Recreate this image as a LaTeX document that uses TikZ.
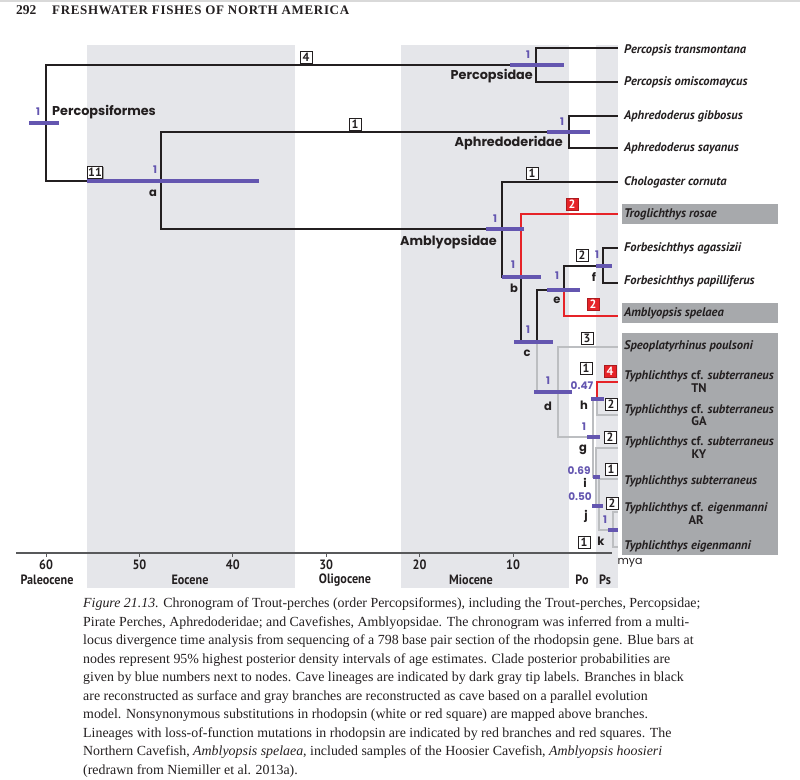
\documentclass[tikz,border=0pt]{standalone}
\usepackage{fontspec}
\setmainfont{Liberation Serif}
\newfontfamily\tipfont{PT Sans}
\newfontfamily\grpfont{Poppins}
\newfontfamily\axfont{PT Sans}[FakeStretch=0.9]
\newfontfamily\hdfont{Liberation Serif}[LetterSpace=5]
\usetikzlibrary{shadows}
\definecolor{hpd}{RGB}{100,86,176}
\definecolor{lof}{RGB}{230,35,40}
\definecolor{cave}{RGB}{188,190,193}
\definecolor{tipbox}{RGB}{167,169,172}
\definecolor{epoch}{RGB}{229,230,234}
\definecolor{ink}{RGB}{35,31,32}
\definecolor{axc}{RGB}{88,89,91}
\begin{document}
\begin{tikzpicture}[x=1pt,y=-1pt,
  br/.style={line width=2.8pt, draw=ink, line join=miter},
  cbr/.style={br, draw=cave},
  rbr/.style={br, draw=lof},
  hpdbar/.style={line width=4pt, draw=hpd},
  pplab/.style={text=hpd, font=\grpfont\bfseries\fontsize{10.5}{10.5}\selectfont, inner sep=0pt},
  nodelab/.style={text=ink, font=\grpfont\bfseries\fontsize{11.5}{11.5}\selectfont, inner sep=0pt},
  grplab/.style={text=ink, font=\grpfont\bfseries\fontsize{12.8}{12.8}\selectfont, inner sep=0pt},
  mutbox/.style={draw=ink, fill=white, line width=0.6pt, inner sep=0pt, minimum width=12pt, minimum height=12pt, text=ink, font=\tipfont\bfseries\fontsize{12}{12}\selectfont, drop shadow={shadow xshift=1.3pt, shadow yshift=-1.3pt, fill=gray!80, opacity=1}},
  rmutbox/.style={mutbox, fill=lof, text=white, draw=lof!75!black},
  tiplab/.style={anchor=west, inner sep=0pt, text=ink, font=\tipfont\bfseries\fontsize{12.5}{12.5}\selectfont, align=center},
  axnum/.style={inner sep=0pt, text=ink, font=\axfont\bfseries\fontsize{13.5}{13.5}\selectfont},
]
\useasboundingbox (0,0) rectangle (800,779);
% page rule and header
\draw[gray!30, line width=1.5pt] (0,1) -- (800,1);
\node[anchor=west, inner sep=0pt, text=ink, font=\bfseries\fontsize{13.5}{13.5}\selectfont] (pg) at (16,10) {292};
\node[anchor=west, inner sep=0pt, text=ink, font=\hdfont\bfseries\fontsize{13}{13}\selectfont] (hd) at (52,10) {FRESHWATER FISHES OF NORTH AMERICA};
% epoch shading
\fill[epoch] (87,45) rectangle (295,588);
\fill[epoch] (401,45) rectangle (569,588);
\fill[epoch] (596,45) rectangle (618,588);
% cave tip boxes
\fill[tipbox] (622,204) rectangle (778,224);
\fill[tipbox] (622,303) rectangle (778,323);
\fill[tipbox] (622,333) rectangle (778,555);
% axis
\draw[axc, line width=2pt] (16,553) -- (612,553);
\foreach \xx in {46,139.4,232.8,326.2,419.6,513} \draw[axc, line width=1pt] (\xx,553) -- (\xx,557);
\node[axnum] (n60) at (46,565) {60};
\node[axnum] (n50) at (139.4,565) {50};
\node[axnum] (n40) at (232.8,565) {40};
\node[axnum] (n30) at (326.2,565) {30};
\node[axnum] (n20) at (419.6,565) {20};
\node[axnum] (n10) at (513,565) {10};
\node[inner sep=0pt, text=ink, font=\grpfont\fontsize{11}{11}\selectfont] (mya) at (630,563) {mya};
\node[axnum] (ep1) at (47,580) {Paleocene};
\node[axnum] (ep2) at (190,580) {Eocene};
\node[axnum] (ep3) at (345,580) {Oligocene};
\node[axnum] (ep4) at (471,580) {Miocene};
\node[axnum] (ep5) at (582,580) {Po};
\node[axnum] (ep6) at (605,580) {Ps};
% tree nodes
\coordinate (root) at (46,123);
\coordinate (perc) at (536,65);
\coordinate (a) at (161,181);
\coordinate (aph) at (569,132);
\coordinate (amb) at (502,229);
\coordinate (b) at (521,277);
\coordinate (c) at (537,342);
\coordinate (e) at (564,290);
\coordinate (f) at (603,266);
\coordinate (d) at (558,392);
\coordinate (g) at (593,437);
\coordinate (h) at (597,399);
\coordinate (i) at (596,477);
\coordinate (j) at (599,506);
\coordinate (k) at (613,530);
% tips
\coordinate (tP1) at (618,48);
\coordinate (tP2) at (618,82);
\coordinate (tA1) at (618,116);
\coordinate (tA2) at (618,148);
\coordinate (tChol) at (618,182);
\coordinate (tTrog) at (618,214);
\coordinate (tF1) at (618,248);
\coordinate (tF2) at (618,283);
\coordinate (tAmb) at (618,316);
\coordinate (tSpeo) at (618,347);
\coordinate (tTN) at (618,382);
\coordinate (tGA) at (618,415);
\coordinate (tKY) at (618,448);
\coordinate (tSub) at (618,479);
\coordinate (tAR) at (618,512);
\coordinate (tEig) at (618,547);
% branches
\draw[br] (root) |- (perc);
\draw[br] (root) |- (a);
\draw[br] (perc) |- (tP1);
\draw[br] (perc) |- (tP2);
\draw[br] (a) |- (aph);
\draw[br] (a) |- (amb);
\draw[br] (aph) |- (tA1);
\draw[br] (aph) |- (tA2);
\draw[br] (amb) |- (tChol);
\draw[br] (amb) |- (b);
\draw[rbr] (b) |- (tTrog);
\draw[br] (b) |- (c);
\draw[br] (c) |- (e);
\draw[cbr] (c) |- (d);
\draw[br] (e) |- (f);
\draw[rbr] (e) |- (tAmb);
\draw[br] (f) |- (tF1);
\draw[br] (f) |- (tF2);
\draw[cbr] (d) |- (tSpeo);
\draw[cbr] (d) |- (g);
\draw[cbr] (g) |- (h);
\draw[cbr] (g) |- (i);
\draw[rbr] (h) |- (tTN);
\draw[cbr] (h) |- (tGA);
\draw[cbr] (i) |- (tKY);
\draw[cbr] (i) |- (j);
\draw[cbr] (j) |- (tSub);
\draw[cbr] (j) |- (k);
\draw[cbr] (k) |- (tAR);
\draw[cbr] (k) |- (tEig);
% HPD bars
\draw[hpdbar] (29,123) -- (59,123);
\draw[hpdbar] (510,65) -- (564,65);
\draw[hpdbar] (87,181) -- (259,181);
\draw[hpdbar] (547,132) -- (590,132);
\draw[hpdbar] (486,229) -- (524,229);
\draw[hpdbar] (502,277) -- (541,277);
\draw[hpdbar] (514,342) -- (553,342);
\draw[hpdbar] (547,290) -- (580,290);
\draw[hpdbar] (596,266) -- (612,266);
\draw[hpdbar] (534,392) -- (572,392);
\draw[hpdbar] (591,399) -- (604,399);
\draw[hpdbar] (587,437) -- (600,437);
\draw[hpdbar] (593,477) -- (600,477);
\draw[hpdbar] (592,506) -- (603,506);
\draw[hpdbar] (608,530) -- (618,530);
% posterior probabilities
\node[pplab] (pr) at (38,112) {1};
\node[pplab] (pperc) at (528,55) {1};
\node[pplab] (pa) at (155,170) {1};
\node[pplab] (paph) at (562,122) {1};
\node[pplab] (pamb) at (495,219) {1};
\node[pplab] (pb) at (513,265) {1};
\node[pplab] (pc) at (528,330) {1};
\node[pplab] (pe) at (557,276) {1};
\node[pplab] (pf) at (597,255) {1};
\node[pplab] (pd) at (548,381) {1};
\node[pplab] (ph) at (582,386) {0.47};
\node[pplab] (pg) at (584,427) {1};
\node[pplab] (pi) at (579,471) {0.69};
\node[pplab] (pj) at (580,497) {0.50};
\node[pplab] (pk) at (605,520) {1};
% clade letters
\node[nodelab] (la) at (153,193) {a};
\node[nodelab] (lb) at (514,288) {b};
\node[nodelab] (lc) at (527,353) {c};
\node[nodelab] (ld) at (548,406) {d};
\node[nodelab] (le) at (557,300) {e};
\node[nodelab] (lf) at (594,277) {f};
\node[nodelab] (lg) at (583,450) {g};
\node[nodelab] (lh) at (584,405) {h};
\node[nodelab] (li) at (585,483) {i};
\node[nodelab] (lj) at (586,516) {j};
\node[nodelab] (lk) at (601,541) {k};
% group names
\node[grplab, anchor=west] (gPf) at (52,112) {Percopsiformes};
\node[grplab, anchor=east] (gPc) at (533,76) {Percopsidae};
\node[grplab, anchor=east] (gAp) at (563,143) {Aphredoderidae};
\node[grplab, anchor=east] (gAm) at (497,242) {Amblyopsidae};
% substitution boxes
\node[mutbox] (m1) at (306,57) {4};
\node[mutbox, minimum width=15pt] (m2) at (95,172) {11};
\node[mutbox] (m3) at (355,124) {1};
\node[mutbox] (m4) at (532,173) {1};
\node[rmutbox] (m5) at (572,204) {2};
\node[mutbox] (m6) at (582,255) {2};
\node[rmutbox] (m7) at (593,304) {2};
\node[mutbox] (m8) at (587,338) {3};
\node[mutbox] (m9) at (586,368) {1};
\node[rmutbox] (m10) at (610,371) {4};
\node[mutbox] (m11) at (611,404) {2};
\node[mutbox] (m12) at (610,437) {2};
\node[mutbox] (m13) at (611,469) {1};
\node[mutbox] (m14) at (612,503) {2};
\node[mutbox] (m15) at (584,542) {1};
% tip labels
\node[tiplab] (L1) at (624,50) {\itshape Percopsis transmontana};
\node[tiplab] (L2) at (624,82) {\itshape Percopsis omiscomaycus};
\node[tiplab] (L3) at (624,116) {\itshape Aphredoderus gibbosus};
\node[tiplab] (L4) at (624,148) {\itshape Aphredoderus sayanus};
\node[tiplab] (L5) at (624,182) {\itshape Chologaster cornuta};
\node[tiplab] (L6) at (624,214) {\itshape Troglichthys rosae};
\node[tiplab] (L7) at (624,248) {\itshape Forbesichthys agassizii};
\node[tiplab] (L8) at (624,281) {\itshape Forbesichthys papilliferus};
\node[tiplab] (L9) at (624,313) {\itshape Amblyopsis spelaea};
\node[tiplab] (L10) at (624,346) {\itshape Speoplatyrhinus poulsoni};
\node[tiplab] (L11) at (624,381.5) {\textit{Typhlichthys} cf. \textit{subterraneus}\\TN};
\node[tiplab] (L12) at (624,415) {\textit{Typhlichthys} cf. \textit{subterraneus}\\GA};
\node[tiplab] (L13) at (624,447.5) {\textit{Typhlichthys} cf. \textit{subterraneus}\\KY};
\node[tiplab] (L14) at (624,481) {\itshape Typhlichthys subterraneus};
\node[tiplab] (L15) at (624,513.5) {\textit{Typhlichthys} cf. \textit{eigenmanni}\\AR};
\node[tiplab] (L16) at (624,546) {\itshape Typhlichthys eigenmanni};
% caption
\node[anchor=north west, align=left, inner sep=0pt, text=ink, font=\fontsize{13.9}{18.5}\selectfont] (cap) at (83,598) {%
\textit{Figure 21.13.} Chronogram of Trout-perches (order Percopsiformes), including the Trout-perches, Percopsidae;\\
Pirate Perches, Aphredoderidae; and Cavefishes, Amblyopsidae. The chronogram was inferred from a multi-\\
locus divergence time analysis from sequencing of a 798 base pair section of the rhodopsin gene. Blue bars at\\
nodes represent 95\% highest posterior density intervals of age estimates. Clade posterior probabilities are\\
given by blue numbers next to nodes. Cave lineages are indicated by dark gray tip labels. Branches in black\\
are reconstructed as surface and gray branches are reconstructed as cave based on a parallel evolution\\
model. Nonsynonymous substitutions in rhodopsin (white or red square) are mapped above branches.\\
Lineages with loss-of-function mutations in rhodopsin are indicated by red branches and red squares. The\\
Northern Cavefish, \textit{Amblyopsis spelaea}, included samples of the Hoosier Cavefish, \textit{Amblyopsis hoosieri}\\
(redrawn from Niemiller et al. 2013a).};
\end{tikzpicture}
\end{document}
